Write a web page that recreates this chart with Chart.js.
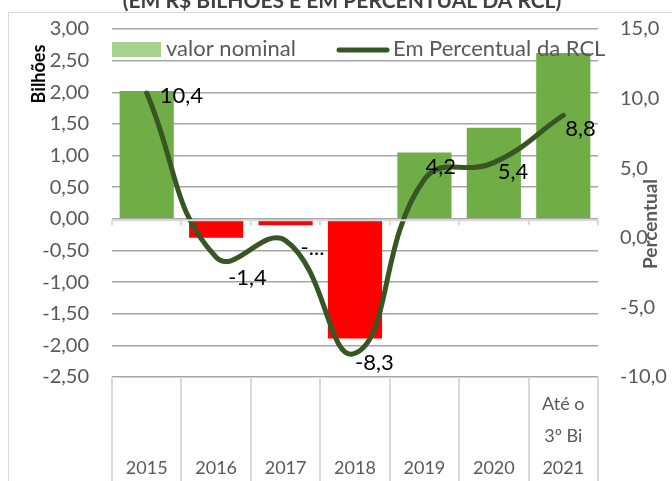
<!DOCTYPE html>
<html lang="pt">
<head>
  <meta charset="UTF-8" />
  <title>Resultado primário</title>
  <script src="https://cdn.jsdelivr.net/npm/chart.js"></script>
  <style>
    body { margin: 0; background: #fff; }
    .chart-container { width: 672px; height: 481px; position: relative; }
  </style>
</head>
<body>
  <div class="chart-container">
    <canvas id="rclChart"></canvas>
  </div>

  <script>
    // dados
    const categorias = [
      ['', '', '2015'], ['', '', '2016'], ['', '', '2017'], ['', '', '2018'],
      ['', '', '2019'], ['', '', '2020'], ['Até o', '3º Bi', '2021']
    ];
    const valorNominal = [2.02, -0.30, -0.10, -1.89, 1.05, 1.44, 2.62]; // R$ bilhões
    const percentualRCL = [10.4, -1.4, -0.2, -8.3, 4.2, 5.4, 8.8];
    const rotulosPercentual = ['10,4', '-1,4', '-...', '-8,3', '4,2', '5,4', '8,8'];

    const VERDE = '#70ad47';
    const VERMELHO = '#ff0000';
    const LINHA = '#375623';
    const CINZA = '#595959';
    const FONTE = 'Lato, "Liberation Sans", sans-serif';

    // deslocamento dos rotulos da linha (esquerda do texto, centro vertical)
    const deslocRotulo = [[13, 3], [12, 21], [15, 7], [0, 10], [1, -12], [4, 9], [2, 14]];

    // o padding dos ticks soma no topo do eixo vertical; desfaz isso
    function ajustaEixoY(scale, largura) {
      scale.width = largura;
      scale.paddingTop = 10;
      scale.paddingBottom = 10;
    }

    const extras = {
      id: 'extras',
      beforeDraw(chart) {
        const ctx = chart.ctx;
        ctx.save();
        // moldura
        ctx.strokeStyle = '#d9d9d9';
        ctx.lineWidth = 1;
        ctx.beginPath();
        ctx.moveTo(8.5, chart.height);
        ctx.lineTo(8.5, 12.5);
        ctx.lineTo(chart.width, 12.5);
        ctx.stroke();
        // titulo (cortado no topo)
        ctx.fillStyle = '#404040';
        ctx.font = 'bold 21px ' + FONTE;
        ctx.textAlign = 'center';
        ctx.textBaseline = 'alphabetic';
        ctx.fillText('(EM R$ BILHÕES E EM PERCENTUAL DA RCL)', 342, 8);
        ctx.restore();
      },
      afterDraw(chart) {
        const ctx = chart.ctx;
        const area = chart.chartArea;
        const y = chart.scales.y;
        const n = categorias.length;
        const larg = (area.right - area.left) / n;
        ctx.save();

        // divisores das categorias abaixo do grafico
        ctx.strokeStyle = '#d9d9d9';
        ctx.lineWidth = 2;
        for (let i = 0; i <= n; i++) {
          const px = Math.round(area.left + i * larg);
          ctx.beginPath();
          ctx.moveTo(px, area.bottom);
          ctx.lineTo(px, chart.height);
          ctx.stroke();
        }
        // eixo horizontal no zero com marcas
        const y0 = y.getPixelForValue(0) + 1.5;
        ctx.beginPath();
        ctx.moveTo(area.left, y0);
        ctx.lineTo(area.right, y0);
        for (let i = 0; i <= n; i++) {
          const px = Math.round(area.left + i * larg);
          ctx.moveTo(px, y0);
          ctx.lineTo(px, y0 + 5);
        }
        ctx.stroke();

        // titulos dos eixos
        ctx.font = 'bold 18px ' + FONTE;
        ctx.textAlign = 'center';
        ctx.textBaseline = 'middle';
        ctx.fillStyle = '#000';
        ctx.save();
        ctx.translate(39, 74);
        ctx.rotate(-Math.PI / 2);
        ctx.fillText('Bilhões', 0, 0);
        ctx.restore();
        ctx.font = 'bold 19px ' + FONTE;
        ctx.fillStyle = CINZA;
        ctx.save();
        ctx.translate(651, 224);
        ctx.rotate(-Math.PI / 2);
        ctx.fillText('Percentual', 0, 0);
        ctx.restore();

        // rotulos da linha
        const meta = chart.getDatasetMeta(1);
        ctx.font = '22px ' + FONTE;
        ctx.fillStyle = '#000';
        ctx.textAlign = 'left';
        ctx.textBaseline = 'middle';
        meta.data.forEach((pt, i) => {
          const d = deslocRotulo[i];
          ctx.fillText(rotulosPercentual[i], pt.x + d[0], pt.y + d[1]);
        });

        // legenda dentro da area
        const ly = area.top + 20;
        ctx.fillStyle = '#a9d18e';
        ctx.fillRect(area.left, ly - 7, 49, 15);
        ctx.fillStyle = CINZA;
        ctx.font = '22px ' + FONTE;
        ctx.fillText('valor nominal', area.left + 54, ly);
        ctx.strokeStyle = LINHA;
        ctx.lineWidth = 5;
        ctx.lineCap = 'round';
        ctx.beginPath();
        ctx.moveTo(339, ly + 1);
        ctx.lineTo(387, ly + 1);
        ctx.stroke();
        ctx.fillText('Em Percentual da RCL', 393, ly);
        ctx.restore();
      }
    };

    const ctx = document.getElementById('rclChart').getContext('2d');
    new Chart(ctx, {
      type: 'bar',
      data: {
        labels: categorias,
        datasets: [
          {
            type: 'bar',
            label: 'valor nominal',
            data: valorNominal,
            backgroundColor: valorNominal.map(v => v < 0 ? VERMELHO : VERDE),
            barPercentage: 0.78,
            categoryPercentage: 1,
            yAxisID: 'y',
            order: 2
          },
          {
            type: 'line',
            label: 'Em Percentual da RCL',
            data: percentualRCL,
            borderColor: LINHA,
            borderWidth: 5,
            borderCapStyle: 'round',
            pointRadius: 0,
            tension: 0.45,
            fill: false,
            yAxisID: 'y1',
            order: 1
          }
        ]
      },
      options: {
        responsive: true,
        maintainAspectRatio: false,
        animation: false,
        layout: { padding: { top: 29, left: 0, right: 0, bottom: 0 } },
        plugins: {
          legend: { display: false },
          tooltip: { enabled: false }
        },
        scales: {
          x: {
            grid: { display: false },
            border: { display: false },
            ticks: {
              color: CINZA,
              font: { family: FONTE, size: 18, lineHeight: '32px' },
              padding: 3,
              maxRotation: 0,
              autoSkip: false
            },
            afterFit(scale) { scale.height = 104; }
          },
          y: {
            position: 'left',
            min: -2.5,
            max: 3,
            grid: { color: '#a6a6a6', lineWidth: 1.5, drawTicks: false },
            border: { display: false },
            ticks: {
              stepSize: 0.5,
              color: CINZA,
              padding: 23,
              font: { family: FONTE, size: 20 },
              callback: v => v.toFixed(2).replace('.', ',')
            },
            afterFit(scale) { ajustaEixoY(scale, 112); }
          },
          y1: {
            position: 'right',
            min: -10,
            max: 15,
            grid: { display: false, drawTicks: false },
            border: { display: false },
            ticks: {
              stepSize: 5,
              color: CINZA,
              padding: 22,
              font: { family: FONTE, size: 20 },
              callback: v => v.toFixed(1).replace('.', ',')
            },
            afterFit(scale) { ajustaEixoY(scale, 74); }
          }
        }
      },
      plugins: [extras]
    });
  </script>
</body>
</html>
